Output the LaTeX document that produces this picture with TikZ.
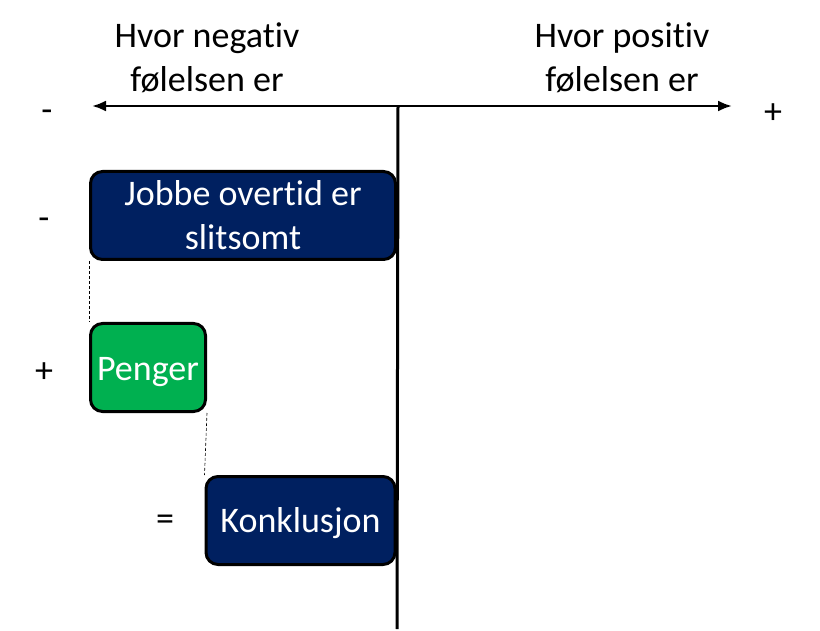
\documentclass[tikz,border=0pt]{standalone}
\usepackage{fontspec}
\setmainfont{Carlito}[Ligatures={NoCommon,NoDiscretionary,NoRare}]
\usetikzlibrary{arrows.meta}
\definecolor{navy}{HTML}{002060}
\definecolor{grn}{HTML}{00B050}
\begin{document}
\begin{tikzpicture}[x=1pt,y=-1pt,
  every node/.style={font=\fontsize{36}{44}\selectfont, inner sep=0pt},
  card/.style={draw=black, line width=3pt, rounded corners=12pt, text=white, align=center},
  lbl/.style={align=center},
  guide/.style={densely dashed, line width=0.6pt},
  axis/.style={line width=2.5pt, {Latex[length=14pt,width=11pt]}-{Latex[length=14pt,width=11pt]}}
]
\useasboundingbox (0,0) rectangle (820,631);
\node[card, fill=navy, minimum width=305pt, minimum height=88pt] (b1) at (243,215.5) {Jobbe overtid er\\slitsomt};
\node[card, fill=grn, minimum width=115pt, minimum height=88pt, text height=27pt, text depth=0pt] (b2) at (148,367.5) {Penger};
\node[card, fill=navy, minimum width=189pt, minimum height=88pt, text height=23pt, text depth=0pt] (b3) at (300.5,520.5) {Konklusjon};
\coordinate (al) at (92,106);
\coordinate (ar) at (732,106);
\coordinate (vt) at (398,106);
\coordinate (vb) at (397,629);
\draw[axis] (al) -- (ar);
\draw[line width=3pt] (vt) -- (vb);
\draw[guide] (b1.south west) -- (b2.north west);
\draw[guide] (b2.south east) -- (b3.north west);
\node[lbl] (tneg) at (207,58) {Hvor negativ\\følelsen er};
\node[lbl] (tpos) at (622,58) {Hvor positiv\\følelsen er};
\node (m1) at (47,116) {-};
\node (p1) at (773,114) {+};
\node (m2) at (44,224) {-};
\node (p2) at (44,373) {+};
\node (eq) at (165,523) {=};
\end{tikzpicture}
\end{document}
